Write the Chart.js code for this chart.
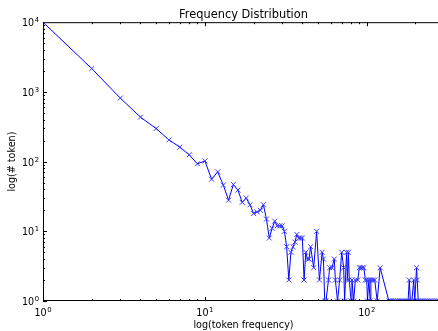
<!DOCTYPE html>
<html>
<head>
<meta charset="utf-8">
<script src="https://cdn.jsdelivr.net/npm/chart.js@4.4.1/dist/chart.umd.min.js"></script>
<style>
  html, body { margin: 0; padding: 0; background: #fff; overflow: hidden; }
  #wrap { width: 438px; height: 331px; overflow: hidden; }
</style>
</head>
<body>
<div id="wrap"><canvas id="freqChart" width="450" height="331"></canvas></div>
<script>
// token frequency (x) and number of tokens with that frequency (y)
const tokenFrequency = [
  1, 2, 3, 4, 5, 6, 7, 8, 9, 10,
  11, 12, 13, 14, 15, 16, 17, 18, 19, 20,
  21, 22, 23, 24, 25, 26, 27, 28, 29, 30,
  31, 32, 33, 34, 35, 36, 37, 38, 39, 40,
  41, 42, 43, 44, 45, 47, 49, 51, 53, 54,
  55, 56, 58, 59, 61, 63, 64, 66, 68, 70,
  72, 73, 75, 76, 77, 78, 80, 81, 83, 85,
  88, 90, 92, 94, 96, 98, 100, 101, 103, 105,
  106, 109, 112, 116, 121, 137, 141, 145, 149, 152,
  156, 160, 165, 170, 175, 180, 183, 186, 190, 195,
  198, 203, 205, 208, 212, 217, 222, 228, 234, 240,
  247, 254, 262, 270, 279, 288, 297
];
const tokenCount = [
  10000, 2160, 815, 434, 298, 205, 161, 125, 93, 102,
  56, 71, 46, 28, 47, 39, 26, 30, 24, 18,
  19, 20, 24, 15, 8, 11, 14, 12, 12, 12,
  10, 6, 2, 5, 6, 7, 9, 8, 8, 8,
  2, 5, 4, 4, 6, 3, 10, 2, 5, 4,
  1, 1, 2, 3, 3, 4, 2, 1, 2, 5,
  3, 1, 5, 2, 5, 2, 1, 2, 1, 2,
  2, 3, 3, 3, 3, 2, 2, 1, 2, 1,
  2, 2, 2, 1, 3, 1, 1, 1, 1, 1,
  1, 1, 1, 1, 1, 1, 2, 1, 1, 2,
  1, 3, 2, 1, 1, 1, 1, 1, 1, 1,
  1, 1, 1, 1, 1, 1, 1
];
const majorTicks = [1, 10, 100, 1000, 10000];

const points = tokenFrequency.map((f, i) => ({ x: f, y: tokenCount[i] }));

function onlyMajor(scale) {
  scale.ticks = majorTicks
    .filter(v => v >= scale.min && v <= scale.max)
    .map(v => ({ value: v }));
}

const baseFont = '9.6px "DejaVu Sans"';
const expFont = '6.8px "DejaVu Sans"';

// draws "10" with a raised exponent; anchor 'center' or 'right'
function drawPower(ctx, value, x, baseline, anchor) {
  const p = String(Math.round(Math.log10(value)));
  ctx.font = baseFont;
  const wBase = ctx.measureText('10').width;
  ctx.font = expFont;
  const wExp = ctx.measureText(p).width;
  const total = wBase + wExp + 0.5;
  const start = anchor === 'center' ? x - total / 2 : x - total;
  ctx.font = baseFont;
  ctx.fillText('10', start, baseline);
  ctx.font = expFont;
  ctx.fillText(p, start + wBase + 0.5, baseline - 4);
}

// matplotlib style frame: spines with inward major/minor ticks and power labels
const framePlugin = {
  id: 'frame',
  afterDatasetsDraw(chart) {
    const { ctx, chartArea: a, scales: { x, y } } = chart;
    ctx.save();
    ctx.strokeStyle = '#000';
    ctx.lineWidth = 1;
    ctx.beginPath();
    ctx.moveTo(a.left + 0.5, a.bottom);
    ctx.lineTo(a.left + 0.5, a.top + 0.5);
    ctx.lineTo(a.right + 1, a.top + 0.5);
    ctx.moveTo(a.left, a.bottom - 0.5);
    ctx.lineTo(a.right + 1, a.bottom - 0.5);

    for (let d = 0; d < 4; d++) {
      for (let m = 1; m <= 9; m++) {
        const v = m * Math.pow(10, d);
        const len = m === 1 ? 4 : 2;
        if (v >= x.min && v <= x.max) {
          const px = Math.round(x.getPixelForValue(v)) + 0.5;
          ctx.moveTo(px, a.bottom);
          ctx.lineTo(px, a.bottom - len);
          ctx.moveTo(px, a.top);
          ctx.lineTo(px, a.top + len);
        }
        if (v >= y.min && v <= y.max) {
          const py = Math.round(y.getPixelForValue(v)) + 0.5;
          ctx.moveTo(a.left, py);
          ctx.lineTo(a.left + len, py);
        }
      }
    }
    ctx.stroke();

    ctx.fillStyle = '#000';
    ctx.textBaseline = 'alphabetic';
    ctx.textAlign = 'left';
    x.ticks.forEach(t => {
      drawPower(ctx, t.value, x.getPixelForValue(t.value), a.bottom + 14.5, 'center');
    });
    y.ticks.forEach(t => {
      drawPower(ctx, t.value, a.left - 4, y.getPixelForValue(t.value) + 4, 'right');
    });
    ctx.restore();
  }
};

const tickFont = { family: 'DejaVu Sans', size: 9.6 };

new Chart(document.getElementById('freqChart'), {
  type: 'line',
  data: {
    datasets: [{
      data: points,
      borderColor: '#0000ff',
      borderWidth: 1,
      tension: 0,
      fill: false,
      pointStyle: 'crossRot',
      pointRadius: 3.5,
      pointBorderColor: '#3a3aff',
      pointBorderWidth: 1
    }]
  },
  options: {
    responsive: false,
    animation: false,
    layout: { padding: { left: 0, right: 6, top: 0, bottom: 0 } },
    plugins: {
      legend: { display: false },
      tooltip: { enabled: false },
      title: {
        display: true,
        text: 'Frequency Distribution',
        color: '#000',
        fullSize: false,
        font: { family: 'DejaVu Sans', size: 11.4, weight: 'normal' },
        padding: { top: 8, bottom: 0.5 }
      }
    },
    scales: {
      x: {
        type: 'logarithmic',
        min: 1,
        max: 300,
        grid: { display: false },
        border: { display: false },
        afterBuildTicks: onlyMajor,
        afterFit(scale) { scale.height = 30; },
        ticks: { display: false },
        title: {
          display: true,
          text: 'log(token frequency)',
          color: '#000',
          font: tickFont,
          padding: { top: 0, bottom: 0 }
        }
      },
      y: {
        type: 'logarithmic',
        min: 1,
        max: 10000,
        grid: { display: false },
        border: { display: false },
        afterBuildTicks: onlyMajor,
        afterFit(scale) { scale.width = 43; },
        ticks: { display: false },
        title: {
          display: true,
          text: 'log(# token)',
          color: '#000',
          font: tickFont,
          padding: { top: 7, bottom: 0 }
        }
      }
    }
  },
  plugins: [framePlugin]
});
</script>
</body>
</html>
